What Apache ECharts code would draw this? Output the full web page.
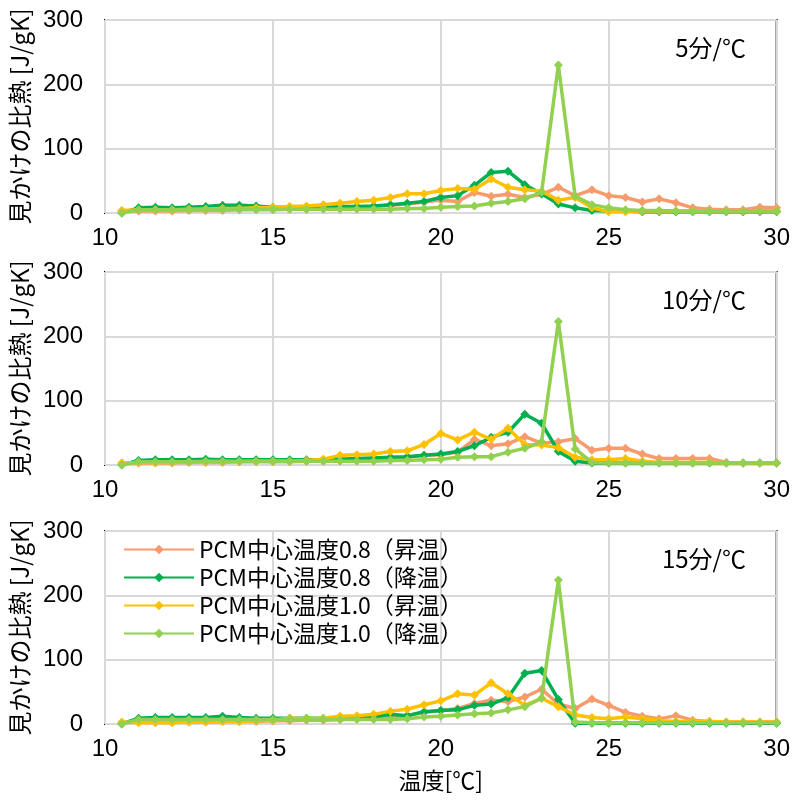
<!DOCTYPE html>
<html>
<head>
<meta charset="utf-8">
<script src="https://cdn.jsdelivr.net/npm/echarts@6/dist/echarts.min.js"></script>
<style>
  html, body { margin: 0; padding: 0; background: #fff; }
  #chart { width: 793px; height: 800px; }
</style>
</head>
<body>
<div id="chart"></div>
<script>
// temperatures (℃) shared by every curve
const temps = [10.5, 11, 11.5, 12, 12.5, 13, 13.5, 14, 14.5, 15,
  15.5, 16, 16.5, 17, 17.5, 18, 18.5, 19, 19.5, 20,
  20.5, 21, 21.5, 22, 22.5, 23, 23.5, 24, 24.5, 25,
  25.5, 26, 26.5, 27, 27.5, 28, 28.5, 29, 29.5, 30]

const seriesNames = [
  'PCM中心温度0.8（昇温）',
  'PCM中心温度0.8（降温）',
  'PCM中心温度1.0（昇温）',
  'PCM中心温度1.0（降温）',
]
const panelLabels = ['5分/℃', '10分/℃', '15分/℃']
const yTicks = [0, 100, 200, 300]
const xTicks = [10, 15, 20, 25, 30]

// 5分/℃
const p5Up08 = [3, 3, 3, 3, 4, 4, 4, 5, 5, 5, 6, 6, 7, 8, 9, 10, 12, 14, 17, 20, 18, 32, 26, 29, 24, 29, 40, 27, 36, 27, 24, 17, 22, 16, 8, 6, 5, 5, 9, 8]
const p5Down08 = [0, 8, 9, 8, 9, 10, 12, 12, 11, 9, 9, 9, 9, 10, 10, 11, 13, 15, 18, 24, 27, 43, 63, 65, 44, 30, 14, 8, 4, 3, 3, 2, 2, 2, 2, 2, 2, 2, 2, 2]
const p5Up10 = [4, 5, 5, 5, 6, 6, 7, 7, 8, 9, 10, 11, 13, 15, 18, 20, 24, 30, 30, 35, 38, 37, 53, 40, 36, 34, 20, 24, 8, 2, 2, 3, 3, 3, 3, 3, 3, 3, 3, 3]
const p5Down10 = [0, 5, 5, 5, 5, 6, 6, 6, 6, 6, 6, 6, 6, 6, 6, 6, 6, 7, 7, 9, 10, 11, 15, 18, 22, 32, 230, 26, 13, 8, 5, 4, 4, 3, 3, 3, 3, 3, 3, 3]

// 10分/℃
const p10Up08 = [3, 3, 3, 3, 4, 4, 4, 5, 5, 5, 5, 6, 6, 7, 8, 9, 10, 12, 15, 16, 20, 40, 30, 33, 44, 34, 36, 41, 23, 26, 26, 17, 10, 10, 10, 10, 4, 3, 3, 3]
const p10Down08 = [0, 7, 8, 8, 8, 9, 8, 8, 8, 8, 8, 8, 8, 9, 10, 11, 12, 13, 15, 17, 21, 30, 43, 51, 79, 65, 21, 6, 3, 3, 3, 3, 3, 3, 3, 3, 3, 3, 3, 3]
const p10Up10 = [3, 4, 4, 4, 5, 5, 5, 5, 6, 6, 6, 7, 9, 15, 16, 17, 21, 22, 32, 49, 39, 51, 40, 57, 32, 31, 27, 12, 8, 8, 10, 6, 4, 4, 4, 4, 3, 3, 3, 3]
const p10Down10 = [0, 5, 5, 5, 5, 6, 6, 6, 6, 6, 6, 6, 6, 6, 6, 6, 7, 7, 8, 9, 12, 13, 13, 20, 26, 36, 223, 25, 4, 3, 3, 3, 3, 3, 3, 3, 3, 3, 3, 3]

// 15分/℃
const p15Up08 = [2, 3, 3, 3, 3, 3, 4, 4, 4, 5, 5, 6, 6, 7, 8, 9, 11, 13, 18, 21, 24, 32, 37, 35, 42, 54, 31, 24, 39, 29, 18, 12, 8, 13, 6, 4, 3, 3, 3, 3]
const p15Down08 = [0, 9, 10, 10, 10, 10, 12, 10, 9, 9, 9, 9, 9, 9, 10, 11, 15, 13, 19, 21, 22, 29, 31, 41, 79, 83, 38, 1, 1, 1, 1, 1, 1, 1, 1, 1, 1, 1, 1, 1]
const p15Up10 = [3, 2, 2, 2, 3, 3, 4, 4, 5, 6, 9, 8, 9, 12, 13, 15, 20, 23, 30, 36, 47, 45, 64, 47, 29, 40, 27, 14, 10, 8, 11, 8, 5, 4, 4, 4, 3, 3, 3, 3]
const p15Down10 = [0, 7, 7, 7, 7, 7, 7, 7, 7, 7, 7, 7, 7, 7, 7, 7, 7, 8, 11, 12, 14, 16, 17, 22, 27, 40, 224, 3, 2, 2, 2, 2, 2, 2, 2, 2, 2, 2, 2, 2]

const panels = [
  [p5Up08, p5Down08, p5Up10, p5Down10],
  [p10Up08, p10Down08, p10Up10, p10Down10],
  [p15Up08, p15Down08, p15Up10, p15Down10],
]

const colors = ['#f89b6c', '#00b050', '#ffc000', '#92d050']
const numFont = '"Liberation Sans Narrow", "Liberation Sans", sans-serif'
const jpFont = '"Noto Sans CJK JP", sans-serif'
const gridTops = [20, 272, 531]
const gridHeight = 193

function buildOption() {
  const grids = gridTops.map((top) => ({
    left: 105, right: 16, top, height: gridHeight,
    show: true, borderColor: '#000', borderWidth: 2, backgroundColor: 'transparent',
  }))

  const xAxes = gridTops.map((_, i) => ({
    type: 'value',
    gridIndex: i,
    min: xTicks[0],
    max: xTicks[xTicks.length - 1],
    interval: xTicks[1] - xTicks[0],
    axisLine: { show: false },
    axisTick: { show: false },
    axisLabel: { color: '#000', fontSize: 24, fontFamily: numFont, margin: 13 },
    splitLine: { lineStyle: { color: '#d9d9d9', width: 2 } },
    name: i === 2 ? '温度[℃]' : '',
    nameLocation: 'middle',
    nameGap: 45,
    nameTextStyle: { color: '#000', fontSize: 23, fontFamily: jpFont },
  }))

  const yAxes = gridTops.map((_, i) => ({
    type: 'value',
    gridIndex: i,
    min: yTicks[0],
    max: yTicks[yTicks.length - 1],
    interval: yTicks[1] - yTicks[0],
    axisLine: { show: false },
    axisTick: { show: false },
    axisLabel: { color: '#000', fontSize: 24, fontFamily: numFont, margin: 22 },
    splitLine: { lineStyle: { color: '#d9d9d9', width: 2 } },
    name: '見かけの比熱 [J/gK]',
    nameLocation: 'middle',
    nameRotate: 90,
    nameGap: 68,
    nameTextStyle: { color: '#000', fontSize: 24, fontFamily: jpFont },
  }))

  const series = []
  panels.forEach((vals, p) => {
    vals.forEach((v, s) => {
      series.push({
        name: seriesNames[s],
        type: 'line',
        xAxisIndex: p,
        yAxisIndex: p,
        symbol: 'diamond',
        symbolSize: 9,
        lineStyle: { width: 3.5, color: colors[s] },
        itemStyle: { color: colors[s] },
        z: 2 + s,
        data: temps.map((t, k) => [t, v[k]]),
      })
    })
  })

  const titles = panelLabels.map((text, i) => ({
    text,
    right: 42,
    top: gridTops[i] + 11,
    textStyle: { color: '#000', fontSize: 24, fontWeight: 'normal', fontFamily: jpFont },
  }))

  return {
    backgroundColor: '#fff',
    animation: false,
    title: titles,
    legend: {
      data: seriesNames,
      orient: 'vertical',
      left: 118,
      top: 533,
      itemWidth: 70,
      itemHeight: 12,
      itemGap: 5,
      textStyle: { color: '#000', fontSize: 23, fontFamily: jpFont },
    },
    grid: grids,
    xAxis: xAxes,
    yAxis: yAxes,
    series,
  }
}

const chart = echarts.init(document.getElementById('chart'), undefined, { renderer: 'canvas' })
chart.setOption(buildOption())
</script>
</body>
</html>
